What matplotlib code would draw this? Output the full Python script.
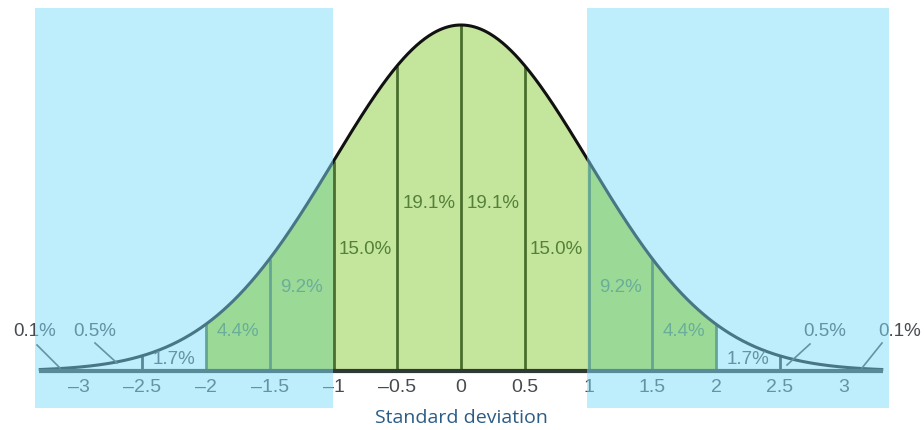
import numpy as np
import matplotlib
matplotlib.use("Agg")
import matplotlib.pyplot as plt
from matplotlib.patches import Rectangle

# Standard deviation band edges and the share of the area in each band
band_edges = [-3.0, -2.5, -2.0, -1.5, -1.0, -0.5, 0.0, 0.5, 1.0, 1.5, 2.0, 2.5, 3.0]
band_pct = [0.5, 1.7, 4.4, 9.2, 15.0, 19.1, 19.1, 15.0, 9.2, 4.4, 1.7, 0.5]
tail_pct = 0.1
tick_values = [-3, -2.5, -2, -1.5, -1, -0.5, 0, 0.5, 1, 1.5, 2, 2.5, 3]
tick_labels = ["\u20133", "\u20132.5", "\u20132", "\u20131.5", "\u20131", "\u20130.5",
               "0", "0.5", "1", "1.5", "2", "2.5", "3"]
xlabel = "Standard deviation"


def pdf(x):
    return np.exp(-0.5 * np.asarray(x) ** 2) / np.sqrt(2 * np.pi)


W, H = 924, 430
fig = plt.figure(figsize=(W / 100, H / 100), dpi=100)
ax = fig.add_axes([0, 0, 1, 1])

# pixel-to-data layout
x0_px, ux = 461.0, 127.5
base_px, uy = 371.0, 346.0 / pdf(0.0)
ax.set_xlim((0 - x0_px) / ux, (W - x0_px) / ux)
ax.set_ylim((base_px - H) / uy, base_px / uy)
ax.axis("off")

center_green = "#c4e69c"
side_green = "#b9d637"
line_green = "#4a6e2e"
text_green = "#55803a"
gray = "#474b50"

# fills between band edges
for lo, hi in zip(band_edges[:-1], band_edges[1:]):
    mid = 0.5 * (lo + hi)
    if abs(mid) < 1:
        col = center_green
    elif abs(mid) < 2:
        col = side_green
    else:
        continue
    xs = np.linspace(lo, hi, 80)
    ax.fill_between(xs, 0, pdf(xs), color=col, lw=0, zorder=1)

# vertical band dividers
for e in band_edges[1:-1]:
    col = line_green if abs(e) <= 2 else "#2c3439"
    ax.plot([e, e], [0, pdf(e)], color=col, lw=2.0, zorder=2,
            solid_capstyle="butt")

# curve and baseline
xc = np.linspace(-3.3, 3.3, 800)
ax.plot(xc, pdf(xc), color="#111111", lw=2.2, zorder=3)
ax.plot([-3.31, 3.31], [0, 0], color="#2e3a36", lw=3.0, zorder=3,
        solid_capstyle="butt")

# band percentage labels
label_y_px = {0.25: 203, 0.75: 249, 1.25: 287, 1.75: 332, 2.25: 359}
for lo, hi, p in zip(band_edges[:-1], band_edges[1:], band_pct):
    mid = 0.5 * (lo + hi)
    if abs(mid) > 2.5:
        continue
    ypx = label_y_px[abs(mid)]
    col = text_green if abs(mid) < 2 else gray
    ax.text(mid, (base_px - ypx) / uy, f"{p:.1f}%", ha="center", va="center",
            fontsize=13.5, color=col, family="Liberation Sans", zorder=5)

# outer tail labels with leader lines
tail_texts = [(band_pct[0], 95, (95, 343), (117, 363)),
              (band_pct[-1], 825, (810, 344), (787, 365)),
              (tail_pct, 35, (37, 345), (60, 368)),
              (tail_pct, 900, (882, 343), (862, 368))]
for p, tx, (ax1, ay1), (ax2, ay2) in tail_texts:
    ax.text((tx - x0_px) / ux, (base_px - 332) / uy, f"{p:.1f}%", ha="center",
            va="center", fontsize=13.5, color=gray, family="Liberation Sans",
            zorder=5)
    ax.plot([(ax1 - x0_px) / ux, (ax2 - x0_px) / ux],
            [(base_px - ay1) / uy, (base_px - ay2) / uy],
            color=gray, lw=1.2, zorder=5)

# tick labels
for v, t in zip(tick_values, tick_labels):
    ax.text(v, (base_px - 387) / uy, t, ha="center", va="center",
            fontsize=14, color=gray, family="Liberation Sans", zorder=5)

ax.text(0, (base_px - 418) / uy, xlabel, ha="center", va="center",
        fontsize=14, color="#2b5c86", family="Open Sans", zorder=5)

# translucent blue shading over the outer regions
for l_px, r_px in [(35, 333), (587, 889)]:
    ax.add_patch(Rectangle(((l_px - x0_px) / ux, (base_px - 408) / uy),
                           (r_px - l_px) / ux, 400 / uy,
                           facecolor="#7fdcf8", alpha=0.5, lw=0, zorder=10))

fig.savefig("out.png", dpi=100)
